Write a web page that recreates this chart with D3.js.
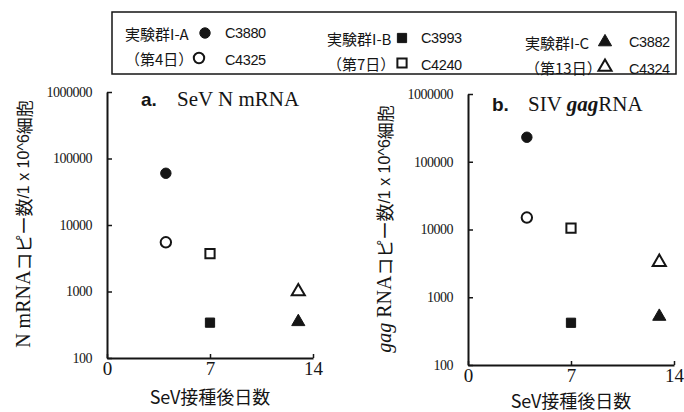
<!DOCTYPE html>
<html>
<head>
<meta charset="utf-8">
<script src="https://cdn.jsdelivr.net/npm/d3@7"></script>
<style>
  body { margin: 0; background: #fff; }
  svg { display: block; }
</style>
</head>
<body>
<div id="chart"></div>
<script>
// sample data
var sampleIds = ["C3880", "C4325", "C3993", "C4240", "C3882", "C4324"];
var sampleDays = [4, 4, 7, 7, 13, 13];
var nMrna = [60000, 5500, 340, 3700, 350, 1000];
var gagRna = [230000, 15000, 420, 10500, 520, 3300];
var sampleShape = ["circle", "circle", "square", "square", "triangle", "triangle"];
var sampleFilled = [true, false, true, false, true, false];

var groupLabels = ["実験群I-A", "実験群I-B", "実験群I-C"];
var groupDays = ["（第4日）", "（第7日）", "（第13日）"];

var yTicks = [100, 1000, 10000, 100000, 1000000];
var xTicks = [0, 7, 14];

var width = 684, height = 412;
var ink = "#151515";

var svg = d3.select("#chart").append("svg")
    .attr("width", width)
    .attr("height", height);

var symbolType = { circle: d3.symbolCircle, square: d3.symbolSquare, triangle: d3.symbolTriangle };
var symbolSize = { circle: 85, square: 85, triangle: 75 };

function marker(g, shape, filled, x, y) {
  g.append("path")
    .attr("d", d3.symbol().type(symbolType[shape]).size(symbolSize[shape])())
    .attr("transform", "translate(" + x + "," + y + ")")
    .attr("fill", filled ? ink : "#fff")
    .attr("stroke", ink)
    .attr("stroke-width", filled ? 1 : 2);
}

//draw one panel
function panel(opts) {
  var x = d3.scaleLinear().domain([0, 14]).range([opts.x0, opts.x1]);
  var y = d3.scaleLog().domain([100, 1000000]).range([opts.y0, opts.y1]);
  var g = svg.append("g");

  var ya = g.append("g")
      .attr("transform", "translate(" + opts.x0 + ",0)")
      .call(d3.axisLeft(y).tickValues(yTicks).tickFormat(d3.format("d"))
        .tickSize(-5).tickSizeOuter(0).tickPadding(15));
  ya.select(".domain").attr("stroke", ink).attr("stroke-width", 2);
  ya.selectAll(".tick line").attr("stroke", ink).attr("stroke-width", 1.5);
  ya.selectAll(".tick text")
      .attr("font-family", "'Liberation Serif', serif")
      .attr("font-size", 14)
      .attr("letter-spacing", -0.5)
      .attr("fill", ink);

  var xa = g.append("g")
      .attr("transform", "translate(0," + opts.y0 + ")")
      .call(d3.axisBottom(x).tickValues(xTicks).tickFormat(d3.format("d"))
        .tickSize(-4).tickSizeOuter(0).tickPadding(3));
  xa.select(".domain").attr("stroke", ink).attr("stroke-width", 2);
  xa.selectAll(".tick line").attr("stroke", ink).attr("stroke-width", 1.5);
  xa.selectAll(".tick text")
      .attr("font-family", "'Liberation Serif', serif")
      .attr("font-size", 19)
      .attr("fill", ink);

  opts.values.forEach(function (v, i) {
    marker(g, sampleShape[i], sampleFilled[i], x(sampleDays[i]), y(v));
  });

  // panel title
  var t = g.append("text")
      .attr("x", opts.titleX)
      .attr("y", opts.titleY)
      .attr("fill", ink)
      .attr("font-size", 21)
      .attr("font-family", "'Liberation Serif', serif");
  t.append("tspan").attr("font-family", "'Liberation Sans', sans-serif")
      .attr("font-weight", "bold").attr("font-size", 19).text(opts.letter);
  opts.title.forEach(function (p, i) {
    var s = t.append("tspan").text(p.text);
    if (i == 0) s.attr("x", opts.titleX + 36);
    if (p.italic) s.attr("font-style", "italic").attr("font-weight", "bold");
  });

  // x axis title
  g.append("text")
      .attr("x", (opts.x0 + opts.x1) / 2)
      .attr("y", opts.xTitleY)
      .attr("text-anchor", "middle")
      .attr("font-family", "'Noto Sans CJK JP', sans-serif")
      .attr("font-size", 18)
      .attr("fill", ink)
      .text("SeV接種後日数");

  // y axis title (rotated)
  var yt = g.append("text")
      .attr("transform", "translate(" + opts.labelX + "," + opts.labelY + ") rotate(-90)")
      .attr("text-anchor", "middle")
      .attr("dominant-baseline", "central")
      .attr("fill", ink);
  opts.yLabel.forEach(function (p) {
    var s = yt.append("tspan").text(p.text)
        .attr("font-family", p.font)
        .attr("font-size", p.size);
    if (p.italic) s.attr("font-style", "italic");
  });
}

var serif = "'Liberation Serif', serif";
var sans = "'Liberation Sans', sans-serif";
var cjk = "'Noto Sans CJK JP', sans-serif";
var unitTail = [
  { text: "コピー数", font: cjk, size: 18 },
  { text: "/1 x 10^6", font: sans, size: 16 },
  { text: "細胞", font: cjk, size: 17 }
];

panel({
  x0: 107, x1: 313, y0: 358, y1: 92,
  values: nMrna,
  letter: "a.", titleX: 141, titleY: 106, xTitleY: 404,
  title: [{ text: "SeV N mRNA" }],
  labelX: 23, labelY: 224,
  yLabel: [{ text: "N mRNA", font: serif, size: 20 }].concat(unitTail)
});

panel({
  x0: 468, x1: 674, y0: 365, y1: 94,
  values: gagRna,
  letter: "b.", titleX: 492, titleY: 111, xTitleY: 408,
  title: [{ text: "SIV " }, { text: "gag", italic: true }, { text: "RNA" }],
  labelX: 384, labelY: 229,
  yLabel: [{ text: "gag", font: serif, size: 20, italic: true },
           { text: " RNA", font: serif, size: 20 }].concat(unitTail)
});

// legend box
var legend = svg.append("g");
legend.append("rect")
    .attr("x", 112).attr("y", 12)
    .attr("width", 564).attr("height", 62)
    .attr("fill", "none")
    .attr("stroke", ink)
    .attr("stroke-width", 1.5);

var legendCols = [
  { tx: 125, mx: 205, mx2: 199, sx: 225, y: 33 },
  { tx: 327, mx: 402, mx2: 402, sx: 421, y: 38 },
  { tx: 525, mx: 605, mx2: 605, sx: 629, y: 42 }
];

groupLabels.forEach(function (lab, gi) {
  var c = legendCols[gi];
  var y2 = c.y + 25;
  legend.append("text")
      .attr("x", c.tx).attr("y", c.y)
      .attr("dominant-baseline", "central")
      .attr("font-family", cjk).attr("font-size", 15)
      .attr("fill", ink).text(lab);
  legend.append("text")
      .attr("x", c.tx).attr("y", y2)
      .attr("dominant-baseline", "central")
      .attr("font-family", cjk).attr("font-size", 15)
      .attr("fill", ink).text(groupDays[gi]);
  [0, 1].forEach(function (k) {
    var i = gi * 2 + k;
    var yy = k == 0 ? c.y : y2;
    marker(legend, sampleShape[i], sampleFilled[i], k == 0 ? c.mx : c.mx2, yy);
    legend.append("text")
        .attr("x", c.sx).attr("y", yy + (k == 0 ? 0 : 2))
        .attr("dominant-baseline", "central")
        .attr("font-family", sans).attr("font-size", 14.5)
        .attr("letter-spacing", -0.4)
        .attr("fill", ink).text(sampleIds[i]);
  });
});
</script>
</body>
</html>
